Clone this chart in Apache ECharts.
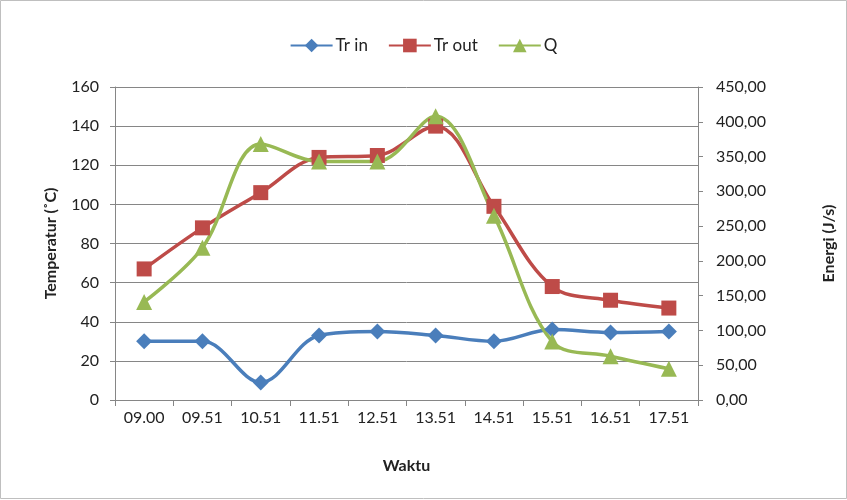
<!DOCTYPE html>
<html>
<head>
<meta charset="utf-8">
<script src="https://cdn.jsdelivr.net/npm/echarts@6/dist/echarts.min.js"></script>
<style>
  html, body { margin: 0; padding: 0; background: #fff; }
  #main { width: 847px; height: 500px; }
</style>
</head>
<body>
<div id="main"></div>
<script>
// waktu pengukuran
const waktu = ['09.00', '09.51', '10.51', '11.51', '12.51', '13.51', '14.51', '15.51', '16.51', '17.51'];
// temperatur (°C)
const trIn = [30, 30, 9, 33, 35, 33, 30, 36, 34.5, 35];
const trOut = [67, 88, 106, 124, 125, 140, 99, 58, 51, 47];
// energi (J/s)
const energiQ = [141, 219, 368, 343, 343, 408, 265, 84, 63, 45];

const fontFam = "Lato, 'Open Sans', sans-serif";
const txt = '#222';

const chart = echarts.init(document.getElementById('main'));

const mkSeries = (name, data, color, symbol, size, yIdx) => ({
    name,
    type: 'line',
    yAxisIndex: yIdx,
    data,
    smooth: 0.35,
    symbol,
    symbolSize: size,
    showAllSymbol: true,
    lineStyle: { color, width: 3.5 },
    itemStyle: { color },
    emphasis: { disabled: true }
});

chart.setOption({
    animation: false,
    backgroundColor: '#fff',
    textStyle: { fontFamily: fontFam },
    graphic: [{
        type: 'rect',
        shape: { x: 0.5, y: 0.5, width: 846, height: 498 },
        style: { fill: 'none', stroke: '#bfbfbf', lineWidth: 1 },
        silent: true
    }],
    legend: {
        top: 32,
        left: 'center',
        itemWidth: 42,
        itemHeight: 17,
        itemGap: 20,
        textStyle: { fontSize: 17, color: txt, fontFamily: fontFam, padding: [0, 0, 0, -2] },
        data: ['Tr in', 'Tr out', 'Q']
    },
    grid: { left: 115, right: 149, top: 87, bottom: 100 },
    xAxis: {
        type: 'category',
        data: waktu,
        name: 'Waktu',
        nameLocation: 'middle',
        nameGap: 58,
        nameTextStyle: { fontSize: 16, fontWeight: 'bold', color: txt },
        axisLine: { lineStyle: { color: '#868686' } },
        axisTick: { show: true, length: 6, lineStyle: { color: '#868686' } },
        axisLabel: { fontSize: 16, color: txt, margin: 10 }
    },
    yAxis: [{
        type: 'value',
        min: 0, max: 160, interval: 20,
        name: 'Temperatur (˚C)',
        nameLocation: 'middle',
        nameGap: 56,
        nameTextStyle: { fontSize: 16, fontWeight: 'bold', color: txt },
        axisLine: { show: true, lineStyle: { color: '#868686' } },
        axisTick: { show: true, length: 5, lineStyle: { color: '#868686' } },
        axisLabel: { fontSize: 16, color: txt, margin: 16 },
        splitLine: { lineStyle: { color: '#868686', width: 1 } }
    }, {
        type: 'value',
        min: 0, max: 450, interval: 50,
        name: 'Energi (J/s)',
        nameLocation: 'middle',
        nameGap: 123,
        nameRotate: 90,
        nameTextStyle: { fontSize: 16, fontWeight: 'bold', color: txt },
        axisLine: { show: true, lineStyle: { color: '#868686' } },
        axisTick: { show: true, length: 5, lineStyle: { color: '#868686' } },
        axisLabel: {
            fontSize: 16, color: txt, margin: 18,
            formatter: v => v.toFixed(2).replace('.', ',')
        },
        splitLine: { show: false }
    }],
    series: [
        mkSeries('Tr in', trIn, '#4a7ebb', 'diamond', 16, 0),
        mkSeries('Tr out', trOut, '#be4b48', 'rect', 15, 0),
        mkSeries('Q', energiQ, '#98b954', 'triangle', 16, 1)
    ]
});
</script>
</body>
</html>
